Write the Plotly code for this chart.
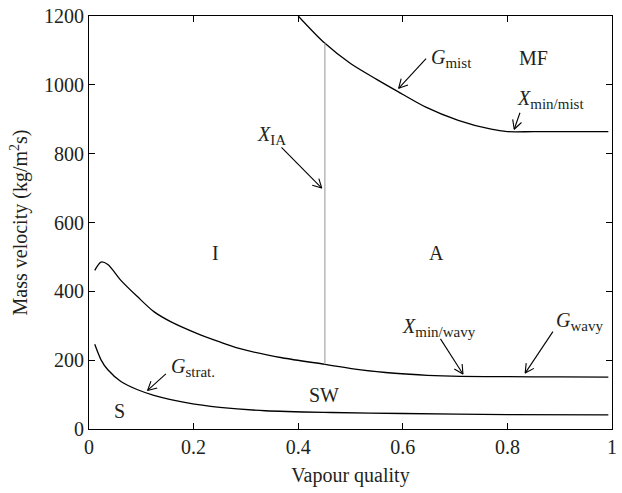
import numpy as np
import plotly.graph_objects as go

# ---------------- data ----------------
mist_x = [0.400, 0.450, 0.500, 0.550, 0.590, 0.643, 0.706, 0.769, 0.800, 0.850, 0.920, 0.993]
mist_y = [1200, 1122, 1062, 1016, 981, 936, 897, 871, 864, 864, 864, 864]

wavy_x = [0.011, 0.023, 0.036, 0.061, 0.093, 0.124, 0.156, 0.206, 0.250, 0.287, 0.369, 0.451,
          0.520, 0.584, 0.647, 0.710, 0.800, 0.900, 0.993]
wavy_y = [461, 485, 478, 432, 384, 341, 312, 278, 253, 234, 207, 188,
          172, 162, 156, 153, 152, 151.5, 151]

strat_x = [0.011, 0.023, 0.036, 0.061, 0.093, 0.124, 0.188, 0.250, 0.337, 0.464, 0.600, 0.800, 0.993]
strat_y = [246, 201, 172, 138, 114, 98, 76, 63, 53, 48, 45, 42, 41]

x_ia = 0.451

x_ticks = [0, 0.2, 0.4, 0.6, 0.8, 1]
x_tick_text = ["0", "0.2", "0.4", "0.6", "0.8", "1"]
y_ticks = [0, 200, 400, 600, 800, 1000, 1200]

SUB = "<sub><span style='font-size:15px'>{}</span></sub>"

# labels: text, x, y, anchor
labels = [
    ("<i>G</i>" + SUB.format("mist"), 0.651, 1077, "left"),
    ("MF", 0.85, 1078, "center"),
    ("<i>X</i>" + SUB.format("min/mist"), 0.883, 956, "center"),
    ("<i>X</i>" + SUB.format("IA"), 0.348, 852, "center"),
    ("I", 0.242, 511, "center"),
    ("A", 0.665, 510, "center"),
    ("<i>X</i>" + SUB.format("min/wavy"), 0.669, 296, "center"),
    ("<i>G</i>" + SUB.format("wavy"), 0.9375, 312, "center"),
    ("<i>G</i>" + SUB.format("strat."), 0.199, 178, "center"),
    ("S", 0.059, 51, "center"),
    ("SW", 0.45, 100, "center"),
]

# arrows: (tail_x, tail_y, tip_x, tip_y)
arrows = [
    (0.6445, 1076, 0.592, 990),
    (0.824, 919, 0.813, 871),
    (0.368, 818, 0.445, 700),
    (0.672, 262, 0.715, 160),
    (0.887, 283, 0.834, 162.5),
    (0.147, 160, 0.112, 112),
]

# ---------------- figure ----------------
W, H = 622, 493
ml, mr, mt, mb = 89, 5, 14.5, 63.5
sx = (W - ml - mr) / 1.0
sy = (H - mt - mb) / 1200.0

FONT = "Liberation Serif"
TXT = "#231f20"

fig = go.Figure()
line_style = dict(color="black", width=1.3, shape="spline", smoothing=0.8)
for cx, cy in ((mist_x, mist_y), (wavy_x, wavy_y), (strat_x, strat_y)):
    fig.add_trace(go.Scatter(x=cx, y=cy, mode="lines", line=line_style, hoverinfo="skip"))

# vertical transition line X_IA between the wavy and mist curves
y_lo = float(np.interp(x_ia, wavy_x, wavy_y))
y_hi = float(np.interp(x_ia, mist_x, mist_y))
fig.add_trace(go.Scatter(x=[x_ia, x_ia], y=[y_lo, y_hi], mode="lines",
                         line=dict(color="#a6a6a6", width=1.2), hoverinfo="skip"))

# arrows with open V heads
head_len = 10.0
head_ang = np.deg2rad(28)
for tx, ty, hx, hy in arrows:
    dx = (hx - tx) * sx
    dy = (hy - ty) * sy
    n = np.hypot(dx, dy)
    ux, uy = dx / n, dy / n
    pts = []
    for s in (1, -1):
        c, si = np.cos(s * head_ang), np.sin(s * head_ang)
        bx = -(ux * c - uy * si) * head_len
        by = -(ux * si + uy * c) * head_len
        pts.append((hx + bx / sx, hy + by / sy))
    xs = [tx, hx, None, pts[0][0], hx, pts[1][0]]
    ys = [ty, hy, None, pts[0][1], hy, pts[1][1]]
    fig.add_trace(go.Scatter(x=xs, y=ys, mode="lines", line=dict(color="black", width=1.1),
                             hoverinfo="skip", connectgaps=False))

for text, x, y, anchor in labels:
    fig.add_annotation(x=x, y=y, text=text, showarrow=False, xanchor=anchor, yanchor="middle",
                       font=dict(family=FONT, size=20, color=TXT))

axis_common = dict(showline=True, linecolor="black", linewidth=1.2, mirror="ticks",
                   ticks="inside", ticklen=6, tickwidth=1.2, tickcolor="black",
                   showgrid=False, zeroline=False,
                   tickfont=dict(family=FONT, size=20, color=TXT))

fig.update_layout(
    width=W, height=H,
    margin=dict(l=ml, r=mr, t=mt, b=mb),
    plot_bgcolor="white", paper_bgcolor="white",
    showlegend=False,
    xaxis=dict(range=[0, 1], tickvals=x_ticks, ticktext=x_tick_text,
               title=dict(text="Vapour quality", font=dict(family=FONT, size=20, color=TXT), standoff=10),
               **axis_common),
    yaxis=dict(range=[0, 1200], tickvals=y_ticks,
               title=dict(text="Mass velocity (kg/m<sup>2</sup>s)", font=dict(family=FONT, size=20, color=TXT), standoff=10),
               **axis_common),
)

fig.write_html("out.html")
